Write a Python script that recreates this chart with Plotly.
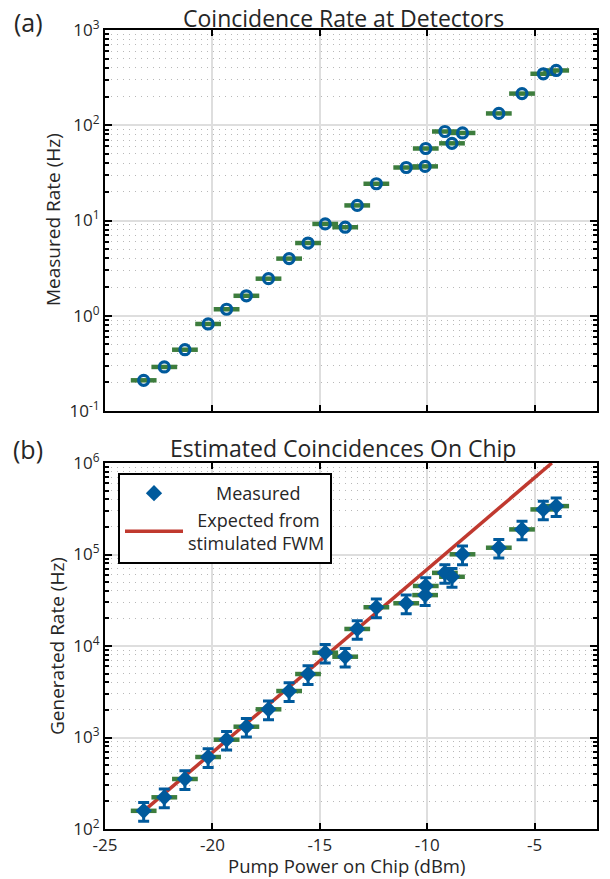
import plotly.graph_objects as go

# ---------------- data ----------------
power_dbm = [-23.20, -22.24, -21.28, -20.20, -19.34, -18.42, -17.39, -16.43, -15.55,
             -14.75, -13.82, -13.26, -12.37, -10.98, -10.10, -10.07, -9.18, -8.85,
             -8.36, -6.67, -5.59, -4.60, -4.00]
rate_detectors_hz = [0.21, 0.29, 0.44, 0.82, 1.17, 1.62, 2.45, 3.98, 5.8,
                     9.2, 8.5, 14.4, 24.3, 36, 37, 57, 86, 64.6,
                     83, 133, 215, 347, 376]
rate_generated_hz = [158, 222, 352, 612, 946, 1312, 2032, 3220, 4940,
                     8450, 7640, 15350, 26500, 29300, 36000, 45300, 63000, 57100,
                     100500, 118600, 188000, 311000, 338000]
power_err_db = 0.6
rate_err_pct = 23
fit_power_dbm = [-23.3, -4.2]
fit_rate_hz = [150, 1.0e6]

x_tickvals = [-25, -20, -15, -10, -5]
x_ticktext = ["-25", "-20", "-15", "-10", "-5"]
ya_tickvals = [0.1, 1, 10, 100, 1000]
ya_ticktext = ["10<sup>-1</sup>", "10<sup>0</sup>", "10<sup>1</sup>", "10<sup>2</sup>", "10<sup>3</sup>"]
yb_tickvals = [1e2, 1e3, 1e4, 1e5, 1e6]
yb_ticktext = ["10<sup>2</sup>", "10<sup>3</sup>", "10<sup>4</sup>", "10<sup>5</sup>", "10<sup>6</sup>"]

title_a = "Coincidence Rate at Detectors"
title_b = "Estimated Coincidences On Chip"
ylabel_a = "Measured Rate (Hz)"
ylabel_b = "Generated Rate (Hz)"
xlabel = "Pump Power on Chip (dBm)"
legend_measured = "\u00a0\u00a0\u00a0\u00a0\u00a0\u00a0Measured"
legend_expected = "\u00a0\u00a0Expected from<br>stimulated FWM"

# ---------------- styling ----------------
# the page body has an 8px margin, so the figure is placed at (8, 8)
OFF = 8
W, H = 610 - OFF, 879 - OFF
FONT = "Open Sans"
TXT = "#262626"
BLUE = "#005a9c"
GREEN = "#3d7d3d"
RED = "#c0392f"


def px_x(p):
    return (p - OFF) / W


def px_y(p):
    return 1 - (p - OFF) / H


x_dom = [px_x(105), px_x(597)]
ya_dom = [px_y(411), px_y(30)]
yb_dom = [px_y(829), px_y(463)]


def minor_vals(k0, k1):
    return [m * 10 ** k for k in range(k0, k1) for m in range(2, 10)]


fig = go.Figure()

# panel (a)
fig.add_trace(go.Scatter(
    x=power_dbm, y=rate_detectors_hz, mode="markers",
    marker=dict(symbol="circle-open", size=10, color=BLUE, line=dict(width=3.2, color=BLUE)),
    error_x=dict(type="constant", value=power_err_db, color=GREEN, thickness=4.5, width=0),
    xaxis="x", yaxis="y", showlegend=False,
))

# panel (b) fit line
fig.add_trace(go.Scatter(
    x=fit_power_dbm, y=fit_rate_hz, mode="lines",
    line=dict(color=RED, width=3.5),
    name=legend_expected,
    xaxis="x2", yaxis="y2", legendrank=2,
))

# panel (b) measured
fig.add_trace(go.Scatter(
    x=power_dbm, y=rate_generated_hz, mode="markers",
    marker=dict(symbol="diamond", size=12.5, color=BLUE),
    error_x=dict(type="constant", value=power_err_db, color=GREEN, thickness=4.5, width=0),
    error_y=dict(type="percent", value=rate_err_pct, color=BLUE, thickness=3, width=5.5),
    name=legend_measured,
    xaxis="x2", yaxis="y2", legendrank=1,
))

common_x = dict(
    range=[-25, -2.1], tickmode="array", tickvals=x_tickvals, ticktext=x_ticktext,
    showgrid=True, gridcolor="#dedede", gridwidth=1.5,
    showline=True, linecolor="black", linewidth=2, mirror="allticks",
    ticks="inside", ticklen=6, tickwidth=2, tickcolor="black",
    zeroline=False, automargin=False,
    tickfont=dict(family=FONT, size=17, color=TXT),
)


def common_y(rng, tv, tt, k0, k1):
    return dict(
        type="log", range=rng, tickmode="array", tickvals=tv, ticktext=tt,
        showgrid=True, gridcolor="#dedede", gridwidth=1.5,
        showline=True, linecolor="black", linewidth=2, mirror="allticks",
        ticks="inside", ticklen=7, tickwidth=2, tickcolor="black",
        zeroline=False, automargin=False,
        tickfont=dict(family=FONT, size=17, color=TXT),
        minor=dict(tickmode="array", tickvals=minor_vals(k0, k1), ticks="inside",
                   ticklen=4, tickwidth=1.5, tickcolor="black",
                   showgrid=True, gridcolor="#b8b8b8", griddash="1px,5px", gridwidth=1.2),
    )


fig.update_layout(
    width=W, height=H,
    margin=dict(l=0, r=0, t=0, b=0),
    paper_bgcolor="white", plot_bgcolor="white",
    font=dict(family=FONT, color=TXT),
    xaxis=dict(domain=x_dom, anchor="y", showticklabels=False, **common_x),
    yaxis=dict(domain=ya_dom, anchor="x", **common_y([-1, 3], ya_tickvals, ya_ticktext, -1, 3)),
    xaxis2=dict(domain=x_dom, anchor="y2", **common_x),
    yaxis2=dict(domain=yb_dom, anchor="x2", **common_y([2, 6], yb_tickvals, yb_ticktext, 2, 6)),
    legend=dict(
        x=px_x(118), y=px_y(473), xanchor="left", yanchor="top",
        xref="paper", yref="paper",
        bgcolor="white", bordercolor="black", borderwidth=2,
        font=dict(family=FONT, size=18, color=TXT),
        itemwidth=58, traceorder="normal",
    ),
    annotations=[
        dict(text=title_a, x=px_x(343), y=px_y(18), xref="paper", yref="paper",
             showarrow=False, font=dict(family=FONT, size=23, color=TXT), xanchor="center", yanchor="middle"),
        dict(text=title_b, x=px_x(343), y=px_y(448), xref="paper", yref="paper",
             showarrow=False, font=dict(family=FONT, size=23, color=TXT), xanchor="center", yanchor="middle"),
        dict(text="(a)", x=px_x(28), y=px_y(22), xref="paper", yref="paper",
             showarrow=False, font=dict(family=FONT, size=25, color=TXT), xanchor="center", yanchor="middle"),
        dict(text="(b)", x=px_x(28), y=px_y(449), xref="paper", yref="paper",
             showarrow=False, font=dict(family=FONT, size=25, color=TXT), xanchor="center", yanchor="middle"),
        dict(text=ylabel_a, x=px_x(53), y=px_y(220), xref="paper", yref="paper", textangle=-90,
             showarrow=False, font=dict(family=FONT, size=19, color=TXT), xanchor="center", yanchor="middle"),
        dict(text=ylabel_b, x=px_x(57), y=px_y(646), xref="paper", yref="paper", textangle=-90,
             showarrow=False, font=dict(family=FONT, size=19, color=TXT), xanchor="center", yanchor="middle"),
        dict(text=xlabel, x=px_x(346), y=px_y(865), xref="paper", yref="paper",
             showarrow=False, font=dict(family=FONT, size=18.5, color=TXT), xanchor="center", yanchor="middle"),
    ],
)

fig.write_html("out.html")
